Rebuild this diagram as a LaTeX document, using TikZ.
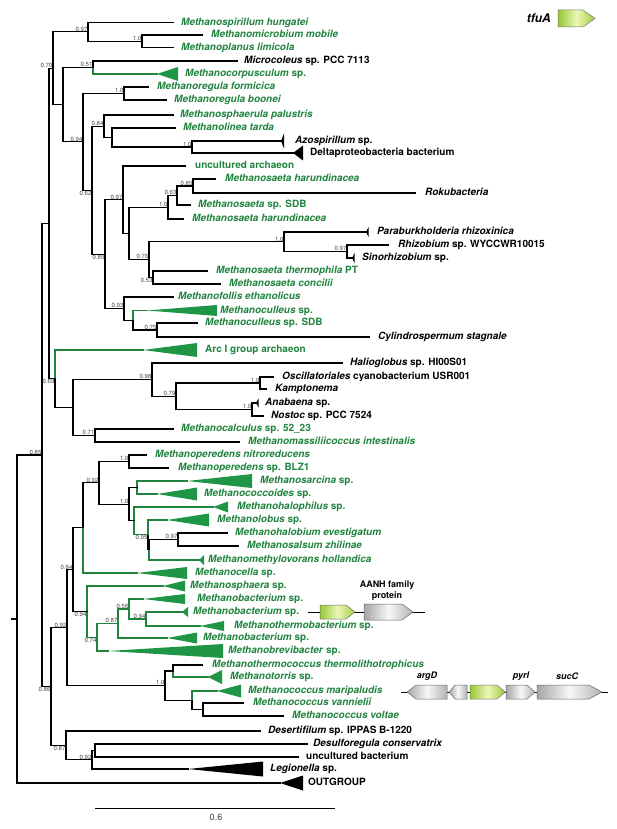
\documentclass[tikz,border=0pt]{standalone}
\usepackage{fontspec}
\setmainfont{TeX Gyre Heros}
\usepackage{xcolor}
\definecolor{gtxt}{RGB}{32,132,62}
\definecolor{gfill}{RGB}{30,150,70}
\definecolor{supc}{RGB}{70,70,70}
\begin{document}
\begin{tikzpicture}[x=1pt, y=-1pt,
    br/.style={line width=1.15pt, line cap=rect},
    gbr/.style={br, gtxt},
    tri/.style={fill=black},
    gtri/.style={fill=gfill},
    lab/.style={anchor=mid west, inner sep=0pt, font=\fontsize{10}{12}\selectfont\bfseries},
    glab/.style={lab, text=gtxt},
    sup/.style={anchor=south east, inner sep=0.4pt, font=\fontsize{6}{6}\selectfont, text=supc},
    supb/.style={sup, anchor=north east},
    gene/.style={draw=black!60, line width=0.5pt, left color=black!35, right color=black!30, middle color=black!3},
    ggene/.style={draw=black!55, line width=0.5pt, left color={rgb,255:red,150;green,200;blue,50}, right color={rgb,255:red,160;green,205;blue,60}, middle color={rgb,255:red,235;green,246;blue,185}},
    glabel/.style={inner sep=0pt, font=\fontsize{9}{11}\selectfont\bfseries}]
    \useasboundingbox (0,0) rectangle (617,829);

    % leaf tips (apex for collapsed clades)
    \coordinate (hung) at (173,22.5);
    \coordinate (mobi) at (202,35);
    \coordinate (limi) at (173,47.5);
    \coordinate (micr) at (237,61);
    \coordinate (corp) at (157,74);
    \coordinate (form) at (148,87);
    \coordinate (boon) at (166,100);
    \coordinate (spha) at (173,115);
    \coordinate (tard) at (175,128);
    \coordinate (azos) at (281,141);
    \coordinate (delt) at (293,153);
    \coordinate (unca) at (185,166);
    \coordinate (har1) at (215,179);
    \coordinate (roku) at (415,193);
    \coordinate (ssdb) at (190,205);
    \coordinate (har2) at (183,219);
    \coordinate (para) at (366,232);
    \coordinate (rhiz) at (388,245);
    \coordinate (sino) at (352,258);
    \coordinate (ther) at (207,271);
    \coordinate (conc) at (220,284);
    \coordinate (foll) at (173,297);
    \coordinate (culs) at (147,310.5);
    \coordinate (cusd) at (197,323);
    \coordinate (cyli) at (369,337);
    \coordinate (arc) at (143,350);
    \coordinate (hali) at (342,363);
    \coordinate (osci) at (273,377);
    \coordinate (kamp) at (266,389);
    \coordinate (anab) at (256,403);
    \coordinate (nost) at (263,416);
    \coordinate (calc) at (173,429);
    \coordinate (mass) at (239,442);
    \coordinate (pnit) at (146,455);
    \coordinate (pblz) at (168,468);
    \coordinate (sarc) at (187,481);
    \coordinate (cocc) at (157,494);
    \coordinate (halp) at (213,507);
    \coordinate (lobu) at (167,520);
    \coordinate (hbev) at (227,533);
    \coordinate (salz) at (238,546);
    \coordinate (meth) at (199,560);
    \coordinate (cell) at (137,573);
    \coordinate (sph2) at (163,586);
    \coordinate (bac1) at (143,599);
    \coordinate (bac2) at (182,612);
    \coordinate (mthb) at (200,626);
    \coordinate (bac3) at (167,638);
    \coordinate (brev) at (108,651);
    \coordinate (mtth) at (202,665);
    \coordinate (torr) at (208,677);
    \coordinate (mari) at (217,691);
    \coordinate (vann) at (243,703);
    \coordinate (volt) at (283,716);
    \coordinate (dese) at (260,731);
    \coordinate (desu) at (307,744);
    \coordinate (uncb) at (298,757);
    \coordinate (legi) at (188,769);
    \coordinate (outg) at (280,783);

    % inner nodes
    \coordinate (a1) at (142,41.25);
    \coordinate (a2) at (88,31.9);
    \coordinate (a3) at (93,67.5);
    \coordinate (a4) at (124,93.5);
    \coordinate (a5) at (192,147);
    \coordinate (a6) at (112,137.5);
    \coordinate (a7) at (104,126.25);
    \coordinate (a8) at (193,186);
    \coordinate (a9) at (177,195.5);
    \coordinate (a10) at (168,207.25);
    \coordinate (a11) at (347,251.5);
    \coordinate (a12) at (284,241.75);
    \coordinate (a13) at (153,277.5);
    \coordinate (a14) at (149,259.6);
    \coordinate (a15) at (129,233.4);
    \coordinate (a16) at (123,199.7);
    \coordinate (a17) at (157,330);
    \coordinate (a18) at (133,320.25);
    \coordinate (a19) at (124,308.6);
    \coordinate (a20) at (105,254.15);
    \coordinate (a21) at (92,190.2);
    \coordinate (a22) at (83,141.85);
    \coordinate (a23) at (63,104.7);
    \coordinate (a24) at (53,68.3);
    \coordinate (b1) at (260,383);
    \coordinate (b2) at (252,409.5);
    \coordinate (b3) at (176,396.25);
    \coordinate (b4) at (152,379.6);
    \coordinate (b5) at (95,435.5);
    \coordinate (b6) at (73,407.55);
    \coordinate (b7) at (55,378.8);
    \coordinate (b8) at (49,223.55);
    \coordinate (c1) at (129,461.5);
    \coordinate (c2) at (137,487.5);
    \coordinate (c3) at (178,539.5);
    \coordinate (c4) at (149,549.75);
    \coordinate (c5) at (148,534.9);
    \coordinate (c6) at (134,520.9);
    \coordinate (c7) at (129,504.2);
    \coordinate (c8) at (99,482.85);
    \coordinate (c9) at (83,527.9);
    \coordinate (d1) at (146,619);
    \coordinate (d2) at (129,609);
    \coordinate (d3) at (118,623.5);
    \coordinate (d4) at (97,637.25);
    \coordinate (d5) at (87,611.6);
    \coordinate (c10) at (73,569.75);
    \coordinate (e1) at (173,671);
    \coordinate (e2) at (203,709.5);
    \coordinate (e3) at (192,700.25);
    \coordinate (e4) at (165,685.6);
    \coordinate (c11) at (67,627.7);
    \coordinate (f1) at (95,750.5);
    \coordinate (f2) at (92,759.75);
    \coordinate (f3) at (66,745.4);
    \coordinate (c12) at (51,686.55);
    \coordinate (top) at (42,455.05);
    \coordinate (root) at (17,619);
    \coordinate (rootL) at (12,619);

    % branches
    \draw[br] (a1) |- (mobi) (a1) |- (limi);
    \draw[br] (a2) |- (hung) (a2) |- (a1);
    \draw[br] (a3) |- (micr);
    \draw[gbr] (a3) |- (corp);
    \draw[br] (a4) |- (form) (a4) |- (boon);
    \draw[br] (a5) |- (azos) (a5) |- (delt);
    \draw[br] (a6) |- (tard) (a6) |- (a5);
    \draw[br] (a7) |- (spha) (a7) |- (a6);
    \draw[br] (a8) |- (har1) (a8) |- (roku);
    \draw[br] (a9) |- (a8) (a9) |- (ssdb);
    \draw[br] (a10) |- (a9) (a10) |- (har2);
    \draw[br] (a11) |- (rhiz) (a11) |- (sino);
    \draw[br] (a12) |- (para) (a12) |- (a11);
    \draw[br] (a13) |- (ther) (a13) |- (conc);
    \draw[br] (a14) |- (a12) (a14) |- (a13);
    \draw[br] (a15) |- (a10) (a15) |- (a14);
    \draw[br] (a16) |- (unca) (a16) |- (a15);
    \draw[br] (a17) |- (cusd) (a17) |- (cyli);
    \draw[gbr] (a18) |- (culs);
    \draw[br] (a18) |- (a17);
    \draw[br] (a19) |- (foll) (a19) |- (a18);
    \draw[br] (a20) |- (a16) (a20) |- (a19);
    \draw[br] (a21) |- (a7) (a21) |- (a20);
    \draw[br] (a22) |- (a4) (a22) |- (a21);
    \draw[br] (a23) |- (a3) (a23) |- (a22);
    \draw[br] (a24) |- (a2) (a24) |- (a23);
    \draw[br] (b1) |- (osci) (b1) |- (kamp);
    \draw[br] (b2) |- (anab) (b2) |- (nost);
    \draw[br] (b3) |- (b1) (b3) |- (b2);
    \draw[br] (b4) |- (hali) (b4) |- (b3);
    \draw[br] (b5) |- (calc) (b5) |- (mass);
    \draw[br] (b6) |- (b4) (b6) |- (b5);
    \draw[gbr] (b7) |- (arc);
    \draw[br] (b7) |- (b6);
    \draw[br] (b8) |- (a24) (b8) |- (b7);
    \draw[br] (c1) |- (pnit) (c1) |- (pblz);
    \draw[gbr] (c2) |- (sarc) (c2) |- (cocc);
    \draw[br] (c3) |- (hbev) (c3) |- (salz);
    \draw[br] (c4) |- (c3);
    \draw[gbr] (c4) |- (meth);
    \draw[gbr] (c5) |- (lobu);
    \draw[br] (c5) |- (c4);
    \draw[gbr] (c6) |- (halp) (c6) |- (c5);
    \draw[br] (c7) |- (c2) (c7) |- (c6);
    \draw[br] (c8) |- (c1) (c8) |- (c7);
    \draw[br] (c9) |- (c8);
    \draw[gbr] (c9) |- (cell);
    \draw[gbr] (d1) |- (bac2) (d1) |- (mthb);
    \draw[gbr] (d2) |- (bac1) (d2) |- (d1);
    \draw[gbr] (d3) |- (d2) (d3) |- (bac3);
    \draw[gbr] (d4) |- (d3) (d4) |- (brev);
    \draw[gbr] (d5) |- (sph2) (d5) |- (d4);
    \draw[br] (c10) |- (c9) (c10) |- (d5);
    \draw[br] (e1) |- (mtth);
    \draw[gbr] (e1) |- (torr);
    \draw[br] (e2) |- (vann) (e2) |- (volt);
    \draw[gbr] (e3) |- (mari);
    \draw[br] (e3) |- (e2);
    \draw[br] (e4) |- (e1) (e4) |- (e3);
    \draw[br] (c11) |- (c10) (c11) |- (e4);
    \draw[br] (f1) |- (desu) (f1) |- (uncb);
    \draw[br] (f2) |- (f1) (f2) |- (legi);
    \draw[br] (f3) |- (dese) (f3) |- (f2);
    \draw[br] (c12) |- (c11) (c12) |- (f3);
    \draw[br] (top) |- (b8) (top) |- (c12);
    \draw[br] (root) |- (top) (root) |- (outg);
    \draw[br] (rootL) -- (root);

    % collapsed clades
    \fill[gtri] (corp) -- (178,67) -- (178,81) -- cycle;
    \fill[gtri] (culs) -- (217,305) -- (217,316) -- cycle;
    \fill[tri] (azos) -- (284,133.5) -- (284,148.5) -- cycle;
    \fill[tri] (delt) -- (303,145.5) -- (303,160.5) -- cycle;
    \fill[tri] (para) -- (368.5,227) -- (368.5,237) -- cycle;
    \fill[tri] (sino) -- (354.5,253) -- (354.5,263) -- cycle;
    \fill[gtri] (arc) -- (197,343) -- (197,357) -- cycle;
    \fill[tri] (anab) -- (258.5,398.5) -- (258.5,407.5) -- cycle;
    \fill[gtri] (sarc) -- (252,474) -- (252,488) -- cycle;
    \fill[gtri] (cocc) -- (197,487.5) -- (197,500.5) -- cycle;
    \fill[gtri] (halp) -- (228,501.5) -- (228,512.5) -- cycle;
    \fill[gtri] (lobu) -- (209,513.5) -- (209,526.5) -- cycle;
    \fill[gtri] (meth) -- (204,555) -- (204,565) -- cycle;
    \fill[gtri] (cell) -- (187,567) -- (187,579) -- cycle;
    \fill[gtri] (sph2) -- (185,580.5) -- (185,591.5) -- cycle;
    \fill[gtri] (bac1) -- (185,594) -- (185,604) -- cycle;
    \fill[gtri] (bac2) -- (188,607) -- (188,617) -- cycle;
    \fill[gtri] (mthb) -- (224,621) -- (224,631) -- cycle;
    \fill[gtri] (bac3) -- (197,632.5) -- (197,643.5) -- cycle;
    \fill[gtri] (brev) -- (223,644) -- (223,658) -- cycle;
    \fill[gtri] (torr) -- (222,670) -- (222,684) -- cycle;
    \fill[gtri] (mari) -- (241,684.5) -- (241,697.5) -- cycle;
    \fill[tri] (legi) -- (263,761.5) -- (263,776.5) -- cycle;
    \fill[tri] (outg) -- (303,775.5) -- (303,790.5) -- cycle;

    % taxon labels
    \node[glab] (hungT) at (181,22.5) {\textit{Methanospirillum hungatei}};
    \node[glab] (mobiT) at (211,35) {\textit{Methanomicrobium mobile}};
    \node[glab] (limiT) at (181,47.5) {\textit{Methanoplanus limicola}};
    \node[lab] (micrT) at (244,61) {\textit{Microcoleus} sp. PCC 7113};
    \node[glab] (corpT) at (185,74) {\textit{Methanocorpusculum} sp.};
    \node[glab] (formT) at (157,87) {\textit{Methanoregula formicica}};
    \node[glab] (boonT) at (174,100) {\textit{Methanoregula boonei}};
    \node[glab] (sphaT) at (180,115) {\textit{Methanosphaerula palustris}};
    \node[glab] (tardT) at (183,128) {\textit{Methanolinea tarda}};
    \node[lab] (azosT) at (295,141) {\textit{Azospirillum} sp.};
    \node[lab] (deltT) at (310,153) {Deltaproteobacteria bacterium};
    \node[glab] (uncaT) at (195,166) {uncultured archaeon};
    \node[glab] (har1T) at (225,179) {\textit{Methanosaeta harundinacea}};
    \node[lab] (rokuT) at (425,193) {\textit{Rokubacteria}};
    \node[glab] (ssdbT) at (198,205) {\textit{Methanosaeta} sp. SDB};
    \node[glab] (har2T) at (192,219) {\textit{Methanosaeta harundinacea}};
    \node[lab] (paraT) at (377,232) {\textit{Paraburkholderia rhizoxinica}};
    \node[lab] (rhizT) at (398,245) {\textit{Rhizobium} sp. WYCCWR10015};
    \node[lab] (sinoT) at (362,258) {\textit{Sinorhizobium} sp.};
    \node[glab] (therT) at (216,271) {\textit{Methanosaeta thermophila} PT};
    \node[glab] (concT) at (229,284) {\textit{Methanosaeta concilii}};
    \node[glab] (follT) at (178,297) {\textit{Methanofollis ethanolicus}};
    \node[glab] (culsT) at (220,310.5) {\textit{Methanoculleus} sp.};
    \node[glab] (cusdT) at (205,323) {\textit{Methanoculleus} sp. SDB};
    \node[lab] (cyliT) at (378,337) {\textit{Cylindrospermum stagnale}};
    \node[glab] (arcT) at (205,350) {Arc I group archaeon};
    \node[lab] (haliT) at (350,363) {\textit{Halioglobus} sp. HI00S01};
    \node[lab] (osciT) at (282,377) {\textit{Oscillatoriales} cyanobacterium USR001};
    \node[lab] (kampT) at (275,389) {\textit{Kamptonema}};
    \node[lab] (anabT) at (265,403) {\textit{Anabaena} sp.};
    \node[lab] (nostT) at (271,416) {\textit{Nostoc} sp. PCC 7524};
    \node[glab] (calcT) at (181,429) {\textit{Methanocalculus} sp. 52\_23};
    \node[glab] (massT) at (248,442) {\textit{Methanomassiliicoccus intestinalis}};
    \node[glab] (pnitT) at (155,455) {\textit{Methanoperedens nitroreducens}};
    \node[glab] (pblzT) at (178,468) {\textit{Methanoperedens} sp. BLZ1};
    \node[glab] (sarcT) at (260,481) {\textit{Methanosarcina} sp.};
    \node[glab] (coccT) at (204,494) {\textit{Methanococcoides} sp.};
    \node[glab] (halpT) at (237,507) {\textit{Methanohalophilus} sp.};
    \node[glab] (lobuT) at (217,520) {\textit{Methanolobus} sp.};
    \node[glab] (hbevT) at (235,533) {\textit{Methanohalobium evestigatum}};
    \node[glab] (salzT) at (247,546) {\textit{Methanosalsum zhilinae}};
    \node[glab] (methT) at (208,560) {\textit{Methanomethylovorans hollandica}};
    \node[glab] (cellT) at (195,573) {\textit{Methanocella} sp.};
    \node[glab] (sph2T) at (190,586) {\textit{Methanosphaera} sp.};
    \node[glab] (bac1T) at (197,599) {\textit{Methanobacterium} sp.};
    \node[glab] (bac2T) at (193,612) {\textit{Methanobacterium} sp.};
    \node[glab] (mthbT) at (234,626) {\textit{Methanothermobacterium} sp.};
    \node[glab] (bac3T) at (203,638) {\textit{Methanobacterium} sp.};
    \node[glab] (brevT) at (228,651) {\textit{Methanobrevibacter} sp.};
    \node[glab] (mtthT) at (212,665) {\textit{Methanothermococcus thermolithotrophicus}};
    \node[glab] (torrT) at (230,677) {\textit{Methanotorris} sp.};
    \node[glab] (mariT) at (248,691) {\textit{Methanococcus maripaludis}};
    \node[glab] (vannT) at (253,703) {\textit{Methanococcus vannielii}};
    \node[glab] (voltT) at (292,716) {\textit{Methanococcus voltae}};
    \node[lab] (deseT) at (268,731) {\textit{Desertifilum} sp. IPPAS B-1220};
    \node[lab] (desuT) at (313,744) {\textit{Desulforegula conservatrix}};
    \node[lab] (uncbT) at (306,757) {uncultured bacterium};
    \node[lab] (legiT) at (270,769) {\textit{Legionella} sp.};
    \node[lab] (outgT) at (308,783) {OUTGROUP};

    % support values
    \node[sup] (a1s) at (a1) {1.0};
    \node[sup] (a2s) at (a2) {0.97};
    \node[sup] (a3s) at (a3) {0.51};
    \node[sup] (a4s) at (a4) {1.0};
    \node[sup] (a5s) at (a5) {1.0};
    \node[sup] (a7s) at (a7) {0.84};
    \node[sup] (a8s) at (a8) {0.85};
    \node[sup] (a9s) at (a9) {0.63};
    \node[sup] (a10s) at (a10) {1.0};
    \node[sup] (a11s) at (a11) {0.97};
    \node[sup] (a12s) at (a12) {1.0};
    \node[supb] (a13s) at (a13) {0.53};
    \node[sup] (a14s) at (a14) {0.76};
    \node[sup] (a16s) at (a16) {0.97};
    \node[sup] (a17s) at (a17) {0.75};
    \node[sup] (a19s) at (a19) {0.93};
    \node[supb] (a20s) at (a20) {0.85};
    \node[supb] (a21s) at (a21) {0.62};
    \node[sup] (a22s) at (a22) {0.94};
    \node[sup] (a24s) at (a24) {0.70};
    \node[sup] (b1s) at (b1) {1.0};
    \node[sup] (b2s) at (b2) {1.0};
    \node[sup] (b3s) at (b3) {0.79};
    \node[sup] (b4s) at (b4) {0.98};
    \node[sup] (b5s) at (b5) {0.71};
    \node[supb] (b7s) at (b7) {0.69};
    \node[sup] (c1s) at (c1) {1.0};
    \node[sup] (c3s) at (c3) {0.97};
    \node[supb] (c5s) at (c5) {0.95};
    \node[sup] (c7s) at (c7) {1.0};
    \node[sup] (c8s) at (c8) {0.92};
    \node[sup] (c10s) at (c10) {0.84};
    \node[sup] (d1s) at (d1) {0.94};
    \node[sup] (d2s) at (d2) {0.56};
    \node[sup] (d3s) at (d3) {0.87};
    \node[supb] (d4s) at (d4) {0.74};
    \node[supb] (d5s) at (d5) {0.94};
    \node[sup] (e4s) at (e4) {1.0};
    \node[sup] (c11s) at (c11) {0.92};
    \node[sup] (f2s) at (f2) {0.92};
    \node[supb] (f3s) at (f3) {0.87};
    \node[supb] (c12s) at (c12) {0.86};
    \node[sup] (tops) at (top) {0.85};

    % scale bar
    \coordinate (sb1) at (95,808);
    \coordinate (sb2) at (335,808);
    \draw[line width=0.9pt] (sb1) -- (sb2);
    \node[inner sep=0pt, font=\fontsize{9}{10}\selectfont, text=black!75] (sbT) at (216,817) {0.6};

    % tfuA legend
    \path[ggene] (558,10) -- (583,10) -- (595,18.5) -- (583,27) -- (558,27) -- cycle;
    \node[glabel, anchor=east, font=\fontsize{12}{12}\selectfont\bfseries\itshape] (tfuT) at (551,18.5) {tfuA};

    % Methanobacterium locus
    \coordinate (l1a) at (308,612);
    \coordinate (l1b) at (425,612);
    \draw[line width=0.8pt] (l1a) -- (l1b);
    \path[ggene] (320,605) -- (346,605) -- (355,612) -- (346,619) -- (320,619) -- cycle;
    \path[gene] (364,604) -- (402,604) -- (413,612) -- (402,620) -- (364,620) -- cycle;
    \node[glabel, align=center, font=\fontsize{9}{11}\selectfont\bfseries] (aanhT) at (387,590.5) {AANH family\\protein};

    % Methanococcus locus
    \coordinate (l2a) at (401,692);
    \coordinate (l2b) at (608,692);
    \draw[line width=0.8pt] (l2a) -- (l2b);
    \path[gene] (407,692) -- (416,685) -- (447,685) -- (447,699) -- (416,699) -- cycle;
    \path[gene] (449,692) -- (455,685) -- (467,685) -- (467,699) -- (455,699) -- cycle;
    \path[ggene] (470,685) -- (497,685) -- (505,692) -- (497,699) -- (470,699) -- cycle;
    \path[gene] (506,685) -- (527,685) -- (535,692) -- (527,699) -- (506,699) -- cycle;
    \path[gene] (537,685) -- (589,685) -- (602,692) -- (589,699) -- (537,699) -- cycle;
    \node[glabel, font=\fontsize{9}{11}\selectfont\bfseries\itshape] (argT) at (427,676) {argD};
    \node[glabel, font=\fontsize{9}{11}\selectfont\bfseries\itshape] (pyrT) at (521,676) {pyrI};
    \node[glabel, font=\fontsize{9}{11}\selectfont\bfseries\itshape] (sucT) at (567,676) {sucC};
\end{tikzpicture}
\end{document}
